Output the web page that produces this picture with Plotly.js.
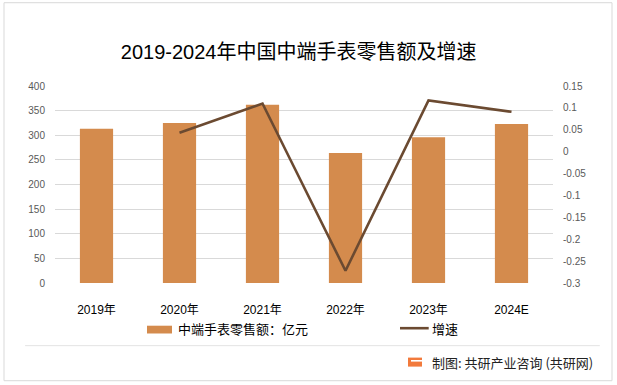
<!DOCTYPE html>
<html>
<head>
<meta charset="utf-8">
<script src="https://cdn.plot.ly/plotly-3.0.1.min.js"></script>
<style>html,body{margin:0;padding:0;background:#fff;}#chart{width:617px;height:385px;}</style>
</head>
<body>
<div id="chart"></div>
<script>
var years = ['2019年', '2020年', '2021年', '2022年', '2023年', '2024E'];
var retailSales = [313, 325, 362, 264, 296, 323];
var growthYears = ['2020年', '2021年', '2022年', '2023年', '2024E'];
var growthRate = [0.043, 0.11, -0.272, 0.117, 0.091];
var leftTicks = [0, 50, 100, 150, 200, 250, 300, 350, 400];
var rightTicks = [0.15, 0.1, 0.05, 0, -0.05, -0.1, -0.15, -0.2, -0.25, -0.3];
var seriesNames = ['中端手表零售额：亿元', '增速'];

var FONT = '"Liberation Sans", "Noto Sans CJK SC", sans-serif';
var BAR_COLOR = '#D48B4D';
var LINE_COLOR = '#6B4A31';

var traces = [
  {
    type: 'bar', name: seriesNames[0], x: years, y: retailSales,
    marker: {color: BAR_COLOR}, width: 0.4, showlegend: false
  },
  {
    type: 'scatter', mode: 'lines', name: seriesNames[1], x: growthYears, y: growthRate,
    yaxis: 'y2', line: {color: LINE_COLOR, width: 2.6}, showlegend: false
  }
];

var layout = {
  width: 617, height: 385,
  margin: {l: 55, r: 64, t: 86, b: 102},
  paper_bgcolor: '#ffffff', plot_bgcolor: '#ffffff',
  font: {family: FONT, color: '#595959', size: 10},
  title: {
    text: '2019-2024年中国中端手表零售额及增速',
    font: {family: FONT, size: 20, color: '#000000'},
    x: 0.484, xref: 'container', xanchor: 'center',
    y: 0.866, yref: 'container', yanchor: 'middle'
  },
  xaxis: {
    type: 'category', categoryarray: years, categoryorder: 'array',
    showgrid: false, zeroline: false, showline: false, ticks: '',
    tickfont: {family: FONT, size: 12, color: '#000000'},
    ticklabelstandoff: 18
  },
  yaxis: {
    range: [0, 400], tickvals: leftTicks, ticktext: leftTicks.map(String),
    showgrid: true, gridcolor: '#D9D9D9', gridwidth: 1,
    zeroline: false, showline: false, ticks: '',
    tickfont: {family: FONT, size: 10, color: '#595959'},
    ticklabelstandoff: 9
  },
  yaxis2: {
    overlaying: 'y', side: 'right', range: [-0.3, 0.15],
    tickvals: rightTicks, ticktext: rightTicks.map(String),
    showgrid: false, zeroline: false, showline: false, ticks: '',
    tickfont: {family: FONT, size: 10, color: '#595959'},
    ticklabelstandoff: 9
  },
  bargap: 0.6,
  showlegend: false,
  shapes: [
    {type: 'rect', xref: 'paper', yref: 'paper', x0: -0.1024, x1: 1.1185, y0: -0.496, y1: 1.4228,
     line: {color: '#D9D9D9', width: 1}, fillcolor: 'rgba(0,0,0,0)', layer: 'below'},
    {type: 'line', xref: 'paper', yref: 'paper', x0: -0.06, x1: 1.094, y0: -0.318, y1: -0.318,
     line: {color: '#E3E3E3', width: 1}},
    // legend swatches
    {type: 'rect', xref: 'paper', yref: 'paper', x0: 0.1847, x1: 0.2349, y0: -0.2168, y1: -0.2563,
     line: {width: 0}, fillcolor: BAR_COLOR},
    {type: 'line', xref: 'paper', yref: 'paper', x0: 0.6928, x1: 0.7504, y0: -0.2294, y1: -0.2294,
     line: {color: LINE_COLOR, width: 2.6}},
    // footer icon
    {type: 'rect', xref: 'paper', yref: 'paper', x0: 0.7088, x1: 0.7369, y0: -0.3787, y1: -0.4244,
     line: {width: 0}, fillcolor: '#F27A3C'},
    {type: 'rect', xref: 'paper', yref: 'paper', x0: 0.7148, x1: 0.7369, y0: -0.3908, y1: -0.3990,
     line: {width: 0}, fillcolor: '#FFFFFF'}
  ],
  annotations: [
    {text: seriesNames[0], xref: 'paper', yref: 'paper', x: 0.2420, y: -0.2345,
     xanchor: 'left', yanchor: 'middle', showarrow: false,
     font: {family: FONT, size: 13, color: '#000000'}},
    {text: seriesNames[1], xref: 'paper', yref: 'paper', x: 0.7530, y: -0.2345,
     xanchor: 'left', yanchor: 'middle', showarrow: false,
     font: {family: FONT, size: 13, color: '#000000'}},
    {text: '制图: 共研产业咨询 (共研网)', xref: 'paper', yref: 'paper', x: 0.753, y: -0.4046,
     xanchor: 'left', yanchor: 'middle', showarrow: false,
     font: {family: '"Noto Sans CJK SC", sans-serif', size: 13, color: '#222222'}}
  ]
};

Plotly.newPlot('chart', traces, layout, {displayModeBar: false, staticPlot: true});
</script>
</body>
</html>
